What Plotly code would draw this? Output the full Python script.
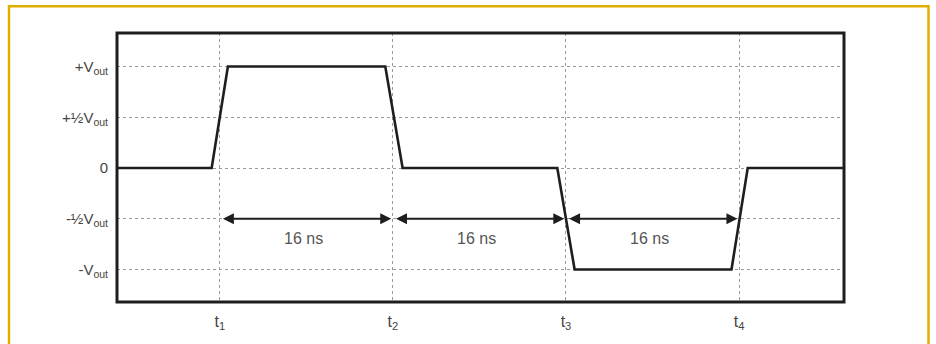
import plotly.graph_objects as go

# ---- data ----
# time axis in ns, t1 = 0
event_times = [0, 16, 32, 48]
event_labels = ["t<sub>1</sub>", "t<sub>2</sub>", "t<sub>3</sub>", "t<sub>4</sub>"]
level_values = [1, 0.5, 0, -0.5, -1]
level_labels = ["+V<sub>out</sub>", "+½V<sub>out</sub>", "0", "-½V<sub>out</sub>", "-V<sub>out</sub>"]

wave_t = [-12, -0.75, 0.75, 15.3, 16.9, 31.2, 32.8, 47.3, 48.8, 60]
wave_v = [0, 0, 1, 1, 0, 0, -1, -1, 0, 0]

interval_labels = ["16 ns", "16 ns", "16 ns"]
interval_level = -0.5

X0, X1 = -9.5, 57.7
Y0, Y1 = -1.32, 1.33

fig = go.Figure()
fig.add_trace(go.Scatter(x=wave_t, y=wave_v, mode="lines",
                         line=dict(color="#1e1e1e", width=2.6),
                         hoverinfo="skip", showlegend=False))

# arrows between events
for i in range(len(event_times) - 1):
    a, b = event_times[i], event_times[i + 1]
    fig.add_annotation(x=b - 0.15, y=interval_level, ax=a + 0.15, ay=interval_level,
                       xref="x", yref="y", axref="x", ayref="y",
                       showarrow=True, arrowhead=2, arrowside="end+start",
                       arrowsize=1.1, arrowwidth=2, arrowcolor="#1e1e1e", text="")
    fig.add_annotation(x=(a + b) / 2 - 0.3, y=interval_level - 0.19, text=interval_labels[i],
                       showarrow=False, font=dict(size=16, color="#555555",
                                                  family="Liberation Sans, Arial"))

# frame
fig.add_shape(type="rect", xref="paper", yref="paper", x0=0, x1=1, y0=0, y1=1,
              line=dict(color="#1e1e1e", width=3), layer="above")
# gold border
fig.add_shape(type="rect", xref="paper", yref="paper",
              x0=(9 - 117) / 727, x1=(928.5 - 117) / 727,
              y0=-0.2, y1=(305 - 6) / 272,
              line=dict(color="#E0AE00", width=2.5), layer="below")

fig.update_layout(
    width=936, height=344,
    margin=dict(l=117, r=92, t=33, b=39),
    paper_bgcolor="white", plot_bgcolor="white",
    font=dict(family="Liberation Sans, Arial", color="#444444"),
    xaxis=dict(range=[X0, X1], tickvals=event_times, ticktext=event_labels,
               showgrid=True, gridcolor="#9a9a9a", griddash="dot", gridwidth=1,
               zeroline=False, showline=False, ticks="", ticklabelstandoff=8,
               tickfont=dict(size=16, color="#444444"), fixedrange=True),
    yaxis=dict(range=[Y0, Y1], tickvals=level_values, ticktext=level_labels,
               showgrid=True, gridcolor="#9a9a9a", griddash="dot", gridwidth=1,
               zeroline=False, showline=False, ticks="", ticklabelstandoff=8,
               tickfont=dict(size=15, color="#444444"), fixedrange=True),
)

fig.write_html("out.html", config={"displayModeBar": False},
               post_script="document.body.style.margin='0';document.body.style.overflow='hidden';")
